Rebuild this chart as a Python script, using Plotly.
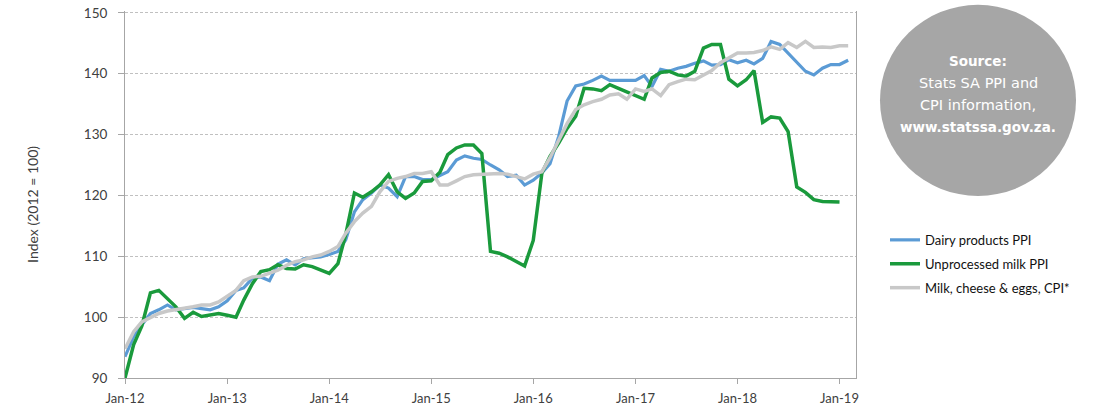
import pandas as pd
import plotly.graph_objects as go

# ---- data ----
months = pd.date_range("2012-01-01", periods=86, freq="MS")

dairy_ppi = [
    93.5, 96.8, 98.7, 100.6, 101.2, 102.0, 101.2, 101.4, 101.6, 101.4, 101.2, 101.7,
    102.7, 104.4, 104.8, 106.4, 106.6, 106.0, 108.7, 109.4, 108.6, 109.6, 109.7, 109.9,
    110.3, 110.8, 112.7, 117.3, 119.3, 120.4, 121.7, 121.2, 119.8, 123.1, 123.1, 122.6,
    122.6, 123.3, 123.9, 125.8, 126.5, 126.1, 125.9, 125.0, 124.2, 123.1, 123.3, 121.7,
    122.5, 123.7, 125.2, 129.7, 135.5, 138.0, 138.3, 138.9, 139.6, 138.9, 138.9, 138.9,
    138.9, 139.7, 137.9, 140.7, 140.4, 140.9, 141.2, 141.7, 142.1, 141.4, 141.5, 142.3,
    141.8, 142.2, 141.6, 142.5, 145.3, 144.8, 143.4, 141.9, 140.4, 139.8, 140.9, 141.5,
    141.5, 142.2,
]

raw_milk_ppi = [
    90.0, 95.5, 98.5, 104.0, 104.4, 103.1, 101.7, 99.8, 100.8, 100.1, 100.4, 100.6,
    100.3, 100.0, 102.8, 105.5, 107.5, 107.8, 108.6, 108.0, 107.9, 108.6, 108.3, 107.8,
    107.2, 108.8, 113.6, 120.4, 119.7, 120.6, 121.7, 123.4, 120.6, 119.5, 120.4, 122.3,
    122.4, 123.8, 126.7, 127.8, 128.3, 128.3, 126.9, 110.8, 110.5, 109.9, 109.1, 108.4,
    112.6, 123.7, 126.4, 128.6, 131.0, 133.0, 137.6, 137.5, 137.2, 138.2, 137.6, 137.0,
    136.4, 135.8, 139.3, 140.2, 140.4, 139.8, 139.6, 140.4, 144.2, 144.8, 144.8, 139.1,
    138.0, 139.0, 140.5, 132.0, 132.9, 132.7, 130.5, 121.4, 120.5, 119.3, 119.0, 118.9,
    118.9, None,
]

milk_cpi = [
    94.8, 97.6, 99.2, 99.9, 100.6, 101.0, 101.2, 101.4, 101.7, 102.0, 102.0, 102.5,
    103.4, 104.4, 106.0, 106.6, 106.7, 107.2, 107.7, 108.5, 109.1, 109.4, 109.9, 110.2,
    110.8, 111.6, 113.8, 115.7, 117.1, 118.2, 120.6, 122.3, 122.8, 123.1, 123.6, 123.6,
    123.9, 121.7, 121.7, 122.4, 123.1, 123.4, 123.5, 123.5, 123.6, 123.5, 123.1, 122.7,
    123.5, 123.9, 126.2, 129.0, 131.8, 134.1, 134.9, 135.4, 135.8, 136.5, 136.7, 135.8,
    137.5, 137.1, 137.5, 136.4, 138.2, 138.7, 139.1, 139.0, 139.7, 140.5, 141.8, 142.6,
    143.4, 143.4, 143.5, 143.8, 144.4, 144.0, 145.1, 144.3, 145.3, 144.3, 144.4, 144.3,
    144.6, 144.6,
]

series_names = ["Dairy products PPI", "Unprocessed milk PPI", "Milk, cheese & eggs, CPI*"]
x_tick_dates = ["2012-01-01", "2013-01-01", "2014-01-01", "2015-01-01",
                "2016-01-01", "2017-01-01", "2018-01-01", "2019-01-01"]
x_tick_labels = ["Jan-12", "Jan-13", "Jan-14", "Jan-15", "Jan-16", "Jan-17", "Jan-18", "Jan-19"]
y_ticks = [90, 100, 110, 120, 130, 140, 150]
source_lines = ["<b>Source:</b>", "Stats SA PPI and", "CPI information,", "<b>www.statssa.gov.za.</b>"]

# ---- figure ----
FONT = "Lato"
TXT = "#404040"
fig = go.Figure()
colors = ["#5B9BD5", "#1A9A3C", "#C8C8C8"]
widths = [3.2, 3.5, 3.5]
for name, ys, c, w in zip(series_names, [dairy_ppi, raw_milk_ppi, milk_cpi], colors, widths):
    fig.add_trace(go.Scatter(
        x=months, y=ys, name=name, mode="lines",
        line=dict(color=c, width=w), legendgroup=name, connectgaps=False,
    ))

# the page body margin is removed by a post script, so page pixels = figure pixels
W, H = 1117, 405
PL, PR, PT, PB = 125, 856, 11.2, 378          # plot area in page pixels
Y_TOP = 150.3                                # slight headroom so the 150 gridline is drawn
L, T = PL, PT
R = W - PR
B = H - PB
pw, ph = PR - PL, PB - PT

def px_x(p):
    return (p - PL) / pw

def px_y(p):
    return (PB - p) / ph

fig.update_layout(
    width=W, height=H,
    margin=dict(l=L, r=R, t=T, b=B, autoexpand=False),
    paper_bgcolor="white", plot_bgcolor="white",
    font=dict(family=FONT, size=13, color=TXT),
    showlegend=True,
    legend=dict(
        x=px_x(885), y=px_y(225), xanchor="left", yanchor="top",
        font=dict(family=FONT, size=13, color="#111111"),
        tracegroupgap=4, itemwidth=30, bgcolor="rgba(0,0,0,0)",
    ),
    xaxis=dict(
        type="date", range=["2012-01-01", "2019-03-01"],
        tickvals=x_tick_dates, ticktext=x_tick_labels,
        showgrid=False, zeroline=False,
        showline=True, linecolor="#A6A6A6", linewidth=1,
        ticks="outside", ticklen=5, tickcolor="#A6A6A6",
        ticklabelstandoff=3,
        tickfont=dict(family=FONT, size=13, color=TXT),
    ),
    yaxis=dict(
        range=[90, Y_TOP], tickvals=y_ticks,
        showgrid=True, gridcolor="#C0C0C0", gridwidth=1, griddash="3px,2px",
        zeroline=False,
        showline=True, linecolor="#A6A6A6", linewidth=1, mirror=True,
        ticks="outside", ticklen=6, tickcolor="#A6A6A6",
        ticklabelstandoff=8, ticklabeloverflow="allow",
        tickfont=dict(family=FONT, size=13.5, color=TXT),
    ),
)

# y-axis title
fig.add_annotation(
    text="Index (2012 = 100)", x=px_x(33), y=px_y(205), xref="paper", yref="paper",
    xanchor="center", yanchor="middle",
    textangle=-90, showarrow=False, font=dict(family=FONT, size=14, color=TXT),
)

# source circle
fig.add_shape(
    type="circle", xref="paper", yref="paper",
    x0=px_x(880), x1=px_x(1076), y0=px_y(196), y1=px_y(5),
    fillcolor="#A6A6A6", line=dict(width=0), layer="above",
)
for i, t in enumerate(source_lines):
    fig.add_annotation(
        text=t, x=px_x(978), y=px_y(61 + i * 22.2), xref="paper", yref="paper",
        showarrow=False,
        font=dict(family="DejaVu Sans", size=13.5 if i in (0, 3) else 14.5, color="white"),
        xanchor="center", yanchor="middle",
    )

fig.write_html(
    "out.html",
    config={"displayModeBar": False},
    post_script="document.body.style.margin='0';document.body.style.overflow='hidden';",
)
